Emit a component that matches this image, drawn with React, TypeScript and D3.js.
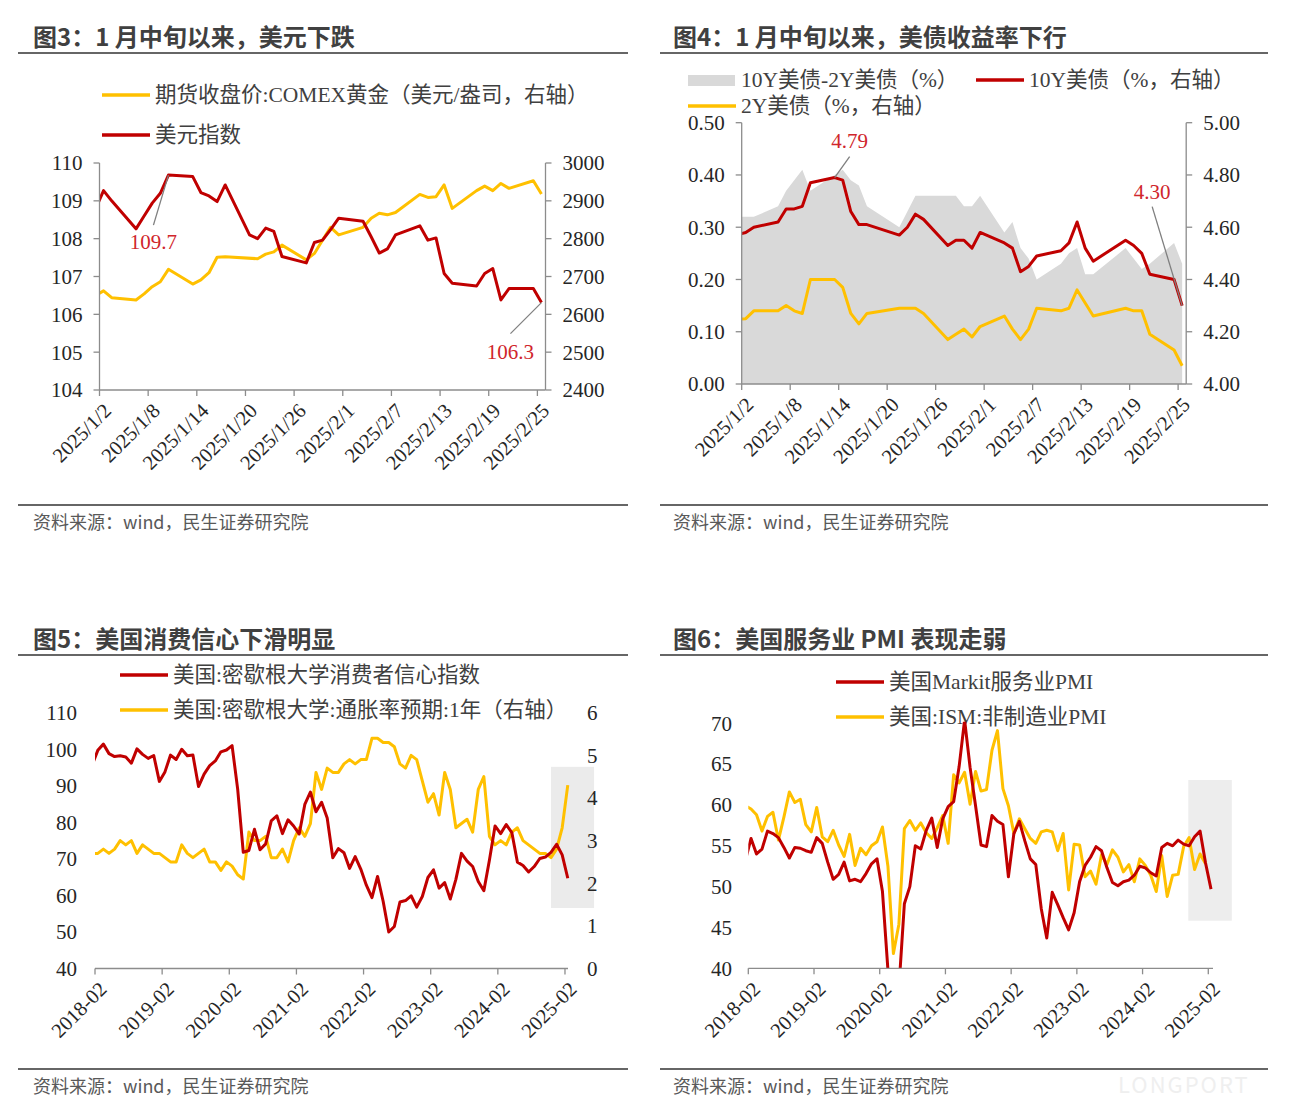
import React from 'react';
import * as d3 from 'd3';

// ---- data: figure 3 / 4 (daily, 2025) ----
const fxDates = [
  '2024-12-31', '2025-01-02', '2025-01-03', '2025-01-06', '2025-01-07', '2025-01-08', '2025-01-09', '2025-01-10',
  '2025-01-13', '2025-01-14', '2025-01-15', '2025-01-16', '2025-01-17', '2025-01-20', '2025-01-21', '2025-01-22',
  '2025-01-23', '2025-01-24', '2025-01-27', '2025-01-28', '2025-01-29', '2025-01-30', '2025-01-31', '2025-02-03',
  '2025-02-04', '2025-02-05', '2025-02-06', '2025-02-07', '2025-02-10', '2025-02-11', '2025-02-12', '2025-02-13',
  '2025-02-14', '2025-02-17', '2025-02-18', '2025-02-19', '2025-02-20', '2025-02-21', '2025-02-24', '2025-02-25',
];
const dxyIndex = [
  108.3, 109.27, 109.0, 108.26, 108.6, 108.94, 109.2, 109.68, 109.64, 109.22, 109.13, 108.98, 109.42, 108.1,
  108.0, 108.28, 108.19, 107.53, 107.36, 107.9, 107.96, 108.24, 108.54, 108.46, 108.05, 107.62, 107.73, 108.1,
  108.34, 107.96, 108.02, 107.08, 106.82, 106.75, 107.08, 107.21, 106.38, 106.68, 106.68, 106.31,
];
const comexGold = [
  2637, 2662, 2644, 2638, 2654, 2673, 2686, 2719, 2680, 2691, 2710, 2751, 2752, null, 2747, 2759, 2765, 2783,
  2744, 2761, 2796, 2830, 2810, 2830, 2854, 2867, 2863, 2869, 2917, 2909, 2911, 2942, 2880, 2927, 2939, 2927,
  2946, 2933, 2953, 2918,
];

const bondDates = fxDates.filter((d) => d !== '2025-01-20' && d !== '2025-02-17');
const us10y = [
  4.563, 4.58, 4.6, 4.62, 4.67, 4.67, 4.68, 4.77, 4.79, 4.78, 4.66, 4.61, 4.61, 4.57, 4.6, 4.65, 4.63, 4.53,
  4.55, 4.55, 4.52, 4.58, 4.54, 4.52, 4.43, 4.45, 4.49, 4.51, 4.54, 4.62, 4.52, 4.47, 4.55, 4.53, 4.5, 4.42,
  4.4, 4.3,
];
const us2y = [
  4.245, 4.25, 4.28, 4.28, 4.3, 4.28, 4.27, 4.4, 4.4, 4.37, 4.27, 4.23, 4.27, 4.29, 4.29, 4.29, 4.27, 4.17,
  4.19, 4.21, 4.18, 4.22, 4.26, 4.21, 4.17, 4.21, 4.29, 4.28, 4.29, 4.36, 4.31, 4.26, 4.29, 4.28, 4.28, 4.19,
  4.13, 4.07,
];
const spread10y2y = [
  0.32, 0.32, 0.32, 0.34, 0.37, 0.39, 0.41, 0.37, 0.4, 0.41, 0.39, 0.38, 0.34, 0.3, 0.33, 0.36, 0.36, 0.36,
  0.36, 0.34, 0.34, 0.36, 0.29, 0.31, 0.26, 0.24, 0.2, 0.23, 0.25, 0.26, 0.21, 0.21, 0.26, 0.24, 0.22, 0.23,
  0.27, 0.23,
];
const dayTicks = [
  '2025/1/2', '2025/1/8', '2025/1/14', '2025/1/20', '2025/1/26',
  '2025/2/1', '2025/2/7', '2025/2/13', '2025/2/19', '2025/2/25',
];

// ---- data: figure 5 / 6 (monthly, from 2018-01) ----
const sentiment = [
  95.7, 99.7, 101.4, 98.8, 98.0, 98.2, 97.9, 96.2, 100.1, 98.6, 97.5, 98.3,
  91.2, 93.8, 98.4, 97.2, 100.0, 98.2, 98.4, 89.8, 93.2, 95.5, 96.8, 99.3,
  99.8, 101.0, 89.1, 71.8, 72.3, 78.1, 72.5, 74.1, 80.4, 81.8, 76.9, 80.7,
  79.0, 76.8, 84.9, 88.3, 82.9, 85.5, 81.2, 70.3, 72.8, 71.7, 67.4, 70.6,
  67.2, 62.8, 59.4, 65.2, 58.4, 50.0, 51.5, 58.2, 58.6, 59.9, 56.8, 59.7,
  64.9, 67.0, 62.0, 63.5, 59.0, 64.4, 71.5, 69.4, 67.9, 63.8, 61.3, 69.7,
  79.0, 76.9, 79.4, 77.2, 69.1, 68.2, 66.4, 67.9, 70.1, 70.5, 71.8, 74.0,
  71.1, 64.7,
];
const inflExp1y = [
  2.7, 2.7, 2.8, 2.7, 2.8, 3.0, 2.9, 3.0, 2.7, 2.9, 2.8, 2.7,
  2.7, 2.6, 2.5, 2.5, 2.9, 2.7, 2.6, 2.7, 2.8, 2.5, 2.5, 2.3,
  2.5, 2.4, 2.2, 2.1, 3.2, 3.0, 3.0, 3.1, 2.6, 2.6, 2.8, 2.5,
  3.0, 3.3, 3.1, 3.4, 4.6, 4.2, 4.7, 4.6, 4.6, 4.8, 4.9, 4.8,
  4.9, 4.9, 5.4, 5.4, 5.3, 5.3, 5.2, 4.8, 4.7, 5.0, 4.9, 4.4,
  3.9, 4.1, 3.6, 4.6, 4.2, 3.3, 3.4, 3.5, 3.2, 4.2, 4.5, 3.1,
  2.9, 3.0, 2.9, 3.2, 3.3, 3.0, 2.9, 2.8, 2.7, 2.7, 2.6, 2.8,
  3.3, 4.3,
];
const markitPmi = [
  53.3, 55.9, 54.0, 54.6, 56.8, 56.5, 56.0, 54.8, 53.5, 54.8, 54.7, 54.4,
  54.2, 56.0, 55.3, 53.0, 50.9, 51.5, 53.0, 50.7, 50.9, 50.6, 51.6, 52.8,
  53.4, 49.4, 39.8, 26.7, 37.5, 47.9, 50.0, 55.0, 54.6, 56.9, 58.4, 54.8,
  58.3, 59.8, 60.4, 64.7, 70.4, 64.6, 59.9, 55.1, 54.9, 58.7, 58.0, 57.6,
  51.2, 56.5, 58.0, 55.6, 53.4, 52.7, 47.3, 43.7, 49.3, 47.8, 46.2, 44.7,
  46.8, 50.6, 52.6, 53.6, 54.9, 54.4, 52.3, 50.5, 50.1, 50.6, 50.8, 51.4,
  52.5, 52.3, 51.7, 51.3, 54.8, 55.3, 55.0, 55.7, 55.2, 55.0, 56.1, 56.8,
  52.9, 49.7,
];
const ismPmi = [
  59.9, 59.5, 58.8, 56.8, 58.6, 59.1, 55.7, 58.5, 61.6, 60.3, 60.7, 57.6,
  56.7, 59.7, 56.1, 55.5, 56.9, 55.1, 53.7, 56.4, 52.6, 54.7, 53.9, 55.0,
  55.5, 57.3, 52.5, 41.8, 45.4, 57.1, 58.1, 56.9, 57.8, 56.6, 55.9, 57.2,
  58.7, 55.3, 63.7, 62.7, 64.0, 60.1, 64.1, 61.7, 61.9, 66.7, 69.1, 62.0,
  59.9, 56.5, 58.3, 57.1, 55.9, 55.3, 56.7, 56.9, 56.7, 54.4, 56.5, 49.6,
  55.2, 55.1, 51.2, 51.9, 50.3, 53.9, 52.7, 54.5, 53.6, 51.8, 52.7, 50.6,
  53.4, 52.6, 51.4, 49.4, 53.8, 48.8, 51.4, 51.5, 54.9, 56.0, 52.1, 54.0,
  52.8,
];
const monthTicks = ['2018-02', '2019-02', '2020-02', '2021-02', '2022-02', '2023-02', '2024-02', '2025-02'];

// ---- styles ----
const SERIF = '"Liberation Serif", "Times New Roman", "Noto Sans CJK SC", serif';
const SANS = '"Noto Sans CJK SC", "Noto Sans", sans-serif';
const RED = '#c00000';
const GOLD = '#ffc000';
const GREY_AREA = '#d9d9d9';
const AXIS = '#8c8c8c';
const TICK_TXT = '#262626';
const LEG_TXT = '#404040';
const NOTE = '#d0262c';

const parseDay = (s: string) => {
  const [y, m, d] = s.split('-').map(Number);
  return new Date(y, m - 1, d, 12);
};
const parseTick = (s: string) => {
  const [y, m, d] = s.split('/').map(Number);
  return new Date(y, m - 1, d);
};
// month index relative to 2018-02
const monthIdx = (s: string) => {
  const [y, m] = s.split('-').map(Number);
  return (y - 2018) * 12 + (m - 2);
};

const dayDomain = [new Date(2025, 0, 2), new Date(2025, 1, 26)];

function Header({ x, y, text, x0, x1 }: { x: number; y: number; text: string; x0: number; x1: number }) {
  return (
    <g>
      <text x={x} y={y} fontFamily={SANS} fontWeight={700} fontSize={24} fill="#404040">{text}</text>
      <line x1={x0} x2={x1} y1={y + 7} y2={y + 7} stroke="#666" strokeWidth={2} />
    </g>
  );
}

function Footer({ x, y, x0, x1 }: { x: number; y: number; x0: number; x1: number }) {
  return (
    <g>
      <line x1={x0} x2={x1} y1={y} y2={y} stroke="#666" strokeWidth={2} />
      <text x={x} y={y + 24} fontFamily={SANS} fontSize={18} fill="#595959">资料来源：wind，民生证券研究院</text>
    </g>
  );
}

function LegendLine({ x, y, color, label }: { x: number; y: number; color: string; label: string }) {
  return (
    <g>
      <line x1={x} x2={x + 48} y1={y} y2={y} stroke={color} strokeWidth={3.5} />
      <text x={x + 53} y={y + 7} fontFamily={SERIF} fontSize={21.5} fill={LEG_TXT}>{label}</text>
    </g>
  );
}

function YTicks({ scale, values, x, side, fmt }: {
  scale: d3.ScaleLinear<number, number>; values: number[]; x: number; side: 'left' | 'right'; fmt: (v: number) => string;
}) {
  const dir = side === 'left' ? -1 : 1;
  return (
    <g>
      {values.map((v) => (
        <g key={v}>
          <line x1={x} x2={x + dir * 6} y1={scale(v)} y2={scale(v)} stroke={AXIS} strokeWidth={1.3} />
          <text x={x + dir * 17} y={scale(v)} dy="0.35em" textAnchor={side === 'left' ? 'end' : 'start'}
            fontFamily={SERIF} fontSize={21} fill={TICK_TXT}>{fmt(v)}</text>
        </g>
      ))}
    </g>
  );
}

function YLabels({ scale, values, x, anchor, fmt }: {
  scale: d3.ScaleLinear<number, number>; values: number[]; x: number; anchor: 'start' | 'end'; fmt: (v: number) => string;
}) {
  return (
    <g>
      {values.map((v) => (
        <text key={v} x={x} y={scale(v)} dy="0.35em" textAnchor={anchor} fontFamily={SERIF} fontSize={21} fill={TICK_TXT}>
          {fmt(v)}
        </text>
      ))}
    </g>
  );
}

function XTicks({ xs, labels, y }: { xs: number[]; labels: string[]; y: number }) {
  return (
    <g>
      {xs.map((x, i) => (
        <g key={labels[i]}>
          <line x1={x} x2={x} y1={y} y2={y + 6} stroke={AXIS} strokeWidth={1.3} />
          <text transform={`translate(${x + 8},${y + 17}) rotate(-45)`} dy="0.35em" textAnchor="end"
            fontFamily={SERIF} fontSize={20.5} fill={TICK_TXT}>{labels[i]}</text>
        </g>
      ))}
    </g>
  );
}

export default function App() {
  // ---------- Figure 3 ----------
  const f3 = { left: 99.5, right: 545.5, top: 163, bottom: 390 };
  const x1 = d3.scaleTime().domain(dayDomain).range([f3.left, f3.right]);
  const yL1 = d3.scaleLinear().domain([104, 110]).range([f3.bottom, f3.top]);
  const yR1 = d3.scaleLinear().domain([2400, 3000]).range([f3.bottom, f3.top]);
  const dxyPts: [number, number][] = fxDates.map((d, i) => [x1(parseDay(d)), yL1(dxyIndex[i])]);
  const goldPts: [number, number][] = fxDates
    .map((d, i) => [d, comexGold[i]] as [string, number | null])
    .filter((p) => p[1] != null)
    .map((p) => [x1(parseDay(p[0])), yR1(p[1] as number)]);
  const line = d3.line();
  const peak1 = dxyPts[fxDates.indexOf('2025-01-10')];
  const last1 = dxyPts[dxyPts.length - 1];

  // ---------- Figure 4 ----------
  const f4 = { left: 741.7, right: 1186.2, top: 122.7, bottom: 384 };
  const x2 = d3.scaleTime().domain(dayDomain).range([f4.left, f4.right]);
  const yL2 = d3.scaleLinear().domain([0, 0.5]).range([f4.bottom, f4.top]);
  const yR2 = d3.scaleLinear().domain([4, 5]).range([f4.bottom, f4.top]);
  const spreadArea = d3.area<number>()
    .x((_, i) => x2(parseDay(bondDates[i])))
    .y0(yL2(0))
    .y1((v) => yL2(v))(spread10y2y) as string;
  const y10Pts: [number, number][] = bondDates.map((d, i) => [x2(parseDay(d)), yR2(us10y[i])]);
  const y2Pts: [number, number][] = bondDates.map((d, i) => [x2(parseDay(d)), yR2(us2y[i])]);
  const peak2 = y10Pts[bondDates.indexOf('2025-01-13')];
  const last2 = y10Pts[y10Pts.length - 1];

  // ---------- Figure 5 ----------
  const f5 = { left: 95, top: 712.7, bottom: 968.5 };
  const x3 = d3.scaleLinear().domain([0, 85]).range([f5.left, f5.left + 85 * 5.595]);
  const yL3 = d3.scaleLinear().domain([40, 110]).range([f5.bottom, f5.top]);
  const yR3 = d3.scaleLinear().domain([0, 6]).range([f5.bottom, f5.top]);
  const sentPts: [number, number][] = sentiment.map((v, k) => [x3(k - 0.5), yL3(v)]);
  const inflPts: [number, number][] = inflExp1y.map((v, k) => [x3(k - 0.5), yR3(v)]);

  // ---------- Figure 6 ----------
  const f6 = { left: 748.3, top: 723.3, bottom: 968.3 };
  const x4 = d3.scaleLinear().domain([0, 85]).range([f6.left, f6.left + 85 * 5.476]);
  const y4 = d3.scaleLinear().domain([40, 70]).range([f6.bottom, f6.top]);
  const markitPts: [number, number][] = markitPmi.map((v, k) => [x4(k - 0.5), y4(v)]);
  const ismPts: [number, number][] = ismPmi.map((v, k) => [x4(k - 0.5), y4(v)]);

  return (
    <svg width={1294} height={1116} viewBox="0 0 1294 1116"
      style={{ position: 'absolute', left: 0, top: 0, background: '#fff', display: 'block' }}>
      <defs>
        <clipPath id="c3"><rect x={f3.left} y={f3.top - 20} width={f3.right - f3.left} height={f3.bottom - f3.top + 20} /></clipPath>
        <clipPath id="c4"><rect x={f4.left} y={f4.top - 20} width={f4.right - f4.left} height={f4.bottom - f4.top + 20} /></clipPath>
        <clipPath id="c5"><rect x={f5.left} y={f5.top - 20} width={500} height={f5.bottom - f5.top + 20} /></clipPath>
        <clipPath id="c6"><rect x={f6.left} y={f6.top - 1.5} width={500} height={f6.bottom - f6.top + 1.5} /></clipPath>
      </defs>
      <rect x={0} y={0} width={1294} height={1116} fill="#fff" />

      {/* ===== Figure 3 ===== */}
      <Header x={33} y={46} text="图3：1 月中旬以来，美元下跌" x0={18} x1={628} />
      <LegendLine x={102} y={95} color={GOLD} label="期货收盘价:COMEX黄金（美元/盎司，右轴）" />
      <LegendLine x={102} y={135} color={RED} label="美元指数" />
      <g clipPath="url(#c3)">
        <path d={line(goldPts) as string} fill="none" stroke={GOLD} strokeWidth={3} strokeLinejoin="round" />
        <path d={line(dxyPts) as string} fill="none" stroke={RED} strokeWidth={3} strokeLinejoin="round" />
      </g>
      <line x1={f3.left} x2={f3.left} y1={f3.top} y2={f3.bottom} stroke={AXIS} strokeWidth={1.3} />
      <line x1={f3.right} x2={f3.right} y1={f3.top} y2={f3.bottom} stroke={AXIS} strokeWidth={1.3} />
      <line x1={f3.left} x2={f3.right} y1={f3.bottom} y2={f3.bottom} stroke={AXIS} strokeWidth={1.3} />
      <YTicks scale={yL1} values={d3.range(104, 111, 1)} x={f3.left} side="left" fmt={(v) => String(v)} />
      <YTicks scale={yR1} values={d3.range(2400, 3001, 100)} x={f3.right} side="right" fmt={(v) => String(v)} />
      <XTicks xs={dayTicks.map((t) => x1(parseTick(t)))} labels={dayTicks} y={f3.bottom} />
      <line x1={peak1[0] - 15} y1={peak1[1] + 50} x2={peak1[0]} y2={peak1[1]} stroke="#7f7f7f" strokeWidth={1.3} />
      <text x={peak1[0] - 15} y={peak1[1] + 74} textAnchor="middle" fontFamily={SERIF} fontSize={21} fill={NOTE}>109.7</text>
      <line x1={last1[0] - 31} y1={last1[1] + 31} x2={last1[0]} y2={last1[1]} stroke="#7f7f7f" strokeWidth={1.3} />
      <text x={last1[0] - 31} y={last1[1] + 56} textAnchor="middle" fontFamily={SERIF} fontSize={21} fill={NOTE}>106.3</text>
      <Footer x={33} y={505} x0={18} x1={628} />

      {/* ===== Figure 4 ===== */}
      <Header x={673} y={46} text="图4：1 月中旬以来，美债收益率下行" x0={660} x1={1268} />
      <rect x={688} y={75} width={47} height={11} fill={GREY_AREA} />
      <text x={741} y={87} fontFamily={SERIF} fontSize={21.5} fill={LEG_TXT}>10Y美债-2Y美债（%）</text>
      <LegendLine x={976} y={80} color={RED} label="10Y美债（%，右轴）" />
      <LegendLine x={688} y={106} color={GOLD} label="2Y美债（%，右轴）" />
      <g clipPath="url(#c4)">
        <path d={spreadArea} fill={GREY_AREA} />
        <path d={line(y2Pts) as string} fill="none" stroke={GOLD} strokeWidth={3} strokeLinejoin="round" />
        <path d={line(y10Pts) as string} fill="none" stroke={RED} strokeWidth={3} strokeLinejoin="round" />
      </g>
      <line x1={f4.left} x2={f4.left} y1={f4.top} y2={f4.bottom} stroke={AXIS} strokeWidth={1.3} />
      <line x1={f4.right} x2={f4.right} y1={f4.top} y2={f4.bottom} stroke={AXIS} strokeWidth={1.3} />
      <line x1={f4.left} x2={f4.right} y1={f4.bottom} y2={f4.bottom} stroke={AXIS} strokeWidth={1.3} />
      <YTicks scale={yL2} values={d3.range(0, 0.51, 0.1)} x={f4.left} side="left" fmt={d3.format('.2f')} />
      <YTicks scale={yR2} values={d3.range(4, 5.01, 0.2)} x={f4.right} side="right" fmt={d3.format('.2f')} />
      <XTicks xs={dayTicks.map((t) => x2(parseTick(t)))} labels={dayTicks} y={f4.bottom} />
      <line x1={peak2[0] + 15} y1={peak2[1] - 21} x2={peak2[0]} y2={peak2[1]} stroke="#7f7f7f" strokeWidth={1.3} />
      <text x={peak2[0] + 15} y={peak2[1] - 30} textAnchor="middle" fontFamily={SERIF} fontSize={21} fill={NOTE}>4.79</text>
      <line x1={last2[0] - 30} y1={last2[1] - 99} x2={last2[0]} y2={last2[1]} stroke="#7f7f7f" strokeWidth={1.3} />
      <text x={last2[0] - 30} y={last2[1] - 107} textAnchor="middle" fontFamily={SERIF} fontSize={21} fill={NOTE}>4.30</text>
      <Footer x={673} y={505} x0={660} x1={1268} />

      {/* ===== Figure 5 ===== */}
      <Header x={33} y={648} text="图5：美国消费信心下滑明显" x0={18} x1={628} />
      <LegendLine x={120} y={675} color={RED} label="美国:密歇根大学消费者信心指数" />
      <LegendLine x={120} y={710} color={GOLD} label="美国:密歇根大学:通胀率预期:1年（右轴）" />
      <rect x={x3(81.5)} y={yR3(4.73)} width={x3(89.2) - x3(81.5)} height={yR3(1.42) - yR3(4.73)} fill="#ebebeb" />
      <g clipPath="url(#c5)">
        <path d={line(inflPts) as string} fill="none" stroke={GOLD} strokeWidth={3} strokeLinejoin="round" />
        <path d={line(sentPts) as string} fill="none" stroke={RED} strokeWidth={3} strokeLinejoin="round" />
      </g>
      <line x1={f5.left} x2={568} y1={f5.bottom} y2={f5.bottom} stroke={AXIS} strokeWidth={1.3} />
      <YLabels scale={yL3} values={d3.range(40, 111, 10)} x={77} anchor="end" fmt={(v) => String(v)} />
      <YLabels scale={yR3} values={d3.range(0, 7, 1)} x={587} anchor="start" fmt={(v) => String(v)} />
      <XTicks xs={monthTicks.map((t) => x3(monthIdx(t)))} labels={monthTicks} y={f5.bottom} />
      <Footer x={33} y={1069} x0={18} x1={628} />

      {/* ===== Figure 6 ===== */}
      <Header x={673} y={648} text="图6：美国服务业 PMI 表现走弱" x0={660} x1={1268} />
      <LegendLine x={836} y={682} color={RED} label="美国Markit服务业PMI" />
      <LegendLine x={836} y={717} color={GOLD} label="美国:ISM:非制造业PMI" />
      <rect x={x4(80.35)} y={y4(63.06)} width={x4(88.3) - x4(80.35)} height={y4(45.83) - y4(63.06)} fill="#ededed" />
      <g clipPath="url(#c6)">
        <path d={line(ismPts) as string} fill="none" stroke={GOLD} strokeWidth={3} strokeLinejoin="round" />
        <path d={line(markitPts) as string} fill="none" stroke={RED} strokeWidth={3} strokeLinejoin="round" />
      </g>
      <line x1={f6.left} x2={1213} y1={f6.bottom} y2={f6.bottom} stroke={AXIS} strokeWidth={1.3} />
      <YLabels scale={y4} values={d3.range(40, 71, 5)} x={732} anchor="end" fmt={(v) => String(v)} />
      <XTicks xs={monthTicks.map((t) => x4(monthIdx(t)))} labels={monthTicks} y={f6.bottom} />
      <Footer x={673} y={1069} x0={660} x1={1268} />

      <text x={1118} y={1093} fontFamily={SANS} fontSize={22} letterSpacing={2} fill="#efefef">LONGPORT</text>
    </svg>
  );
}
